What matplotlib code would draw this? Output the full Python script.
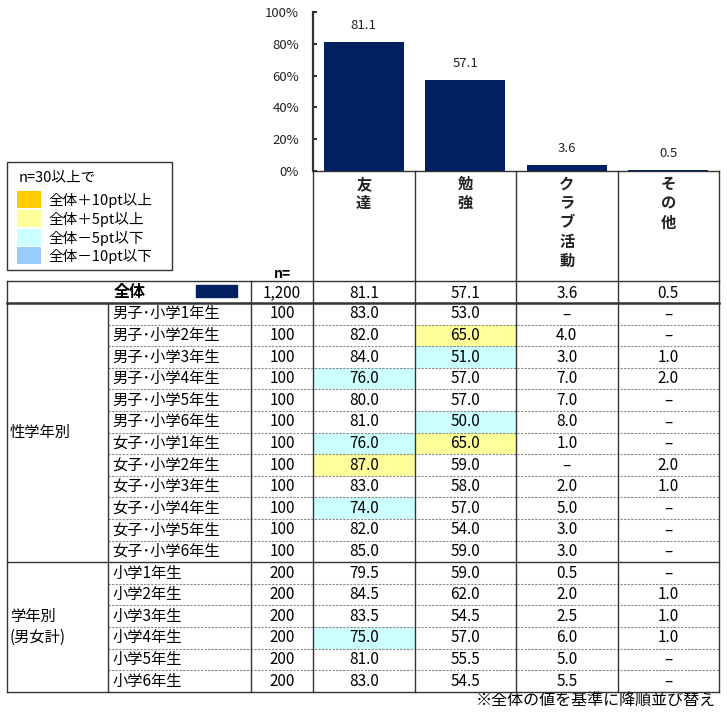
import numpy as np
import matplotlib.pyplot as plt
from matplotlib.patches import Rectangle

plt.rcParams['font.family'] = ['Noto Sans CJK JP', 'DejaVu Sans']

# データ
categories = ['友達', '勉強', 'クラブ活動', 'その他']
total_label = '全体'
total_n = 1200
total_values = [81.1, 57.1, 3.6, 0.5]

group_labels = ['性学年別', '学年別\n(男女計)']

rows_sex_grade = ['男子･小学1年生', '男子･小学2年生', '男子･小学3年生', '男子･小学4年生',
                  '男子･小学5年生', '男子･小学6年生', '女子･小学1年生', '女子･小学2年生',
                  '女子･小学3年生', '女子･小学4年生', '女子･小学5年生', '女子･小学6年生']
n_sex_grade = [100, 100, 100, 100, 100, 100, 100, 100, 100, 100, 100, 100]
vals_sex_grade = [
    [83.0, 53.0, None, None],
    [82.0, 65.0, 4.0, None],
    [84.0, 51.0, 3.0, 1.0],
    [76.0, 57.0, 7.0, 2.0],
    [80.0, 57.0, 7.0, None],
    [81.0, 50.0, 8.0, None],
    [76.0, 65.0, 1.0, None],
    [87.0, 59.0, None, 2.0],
    [83.0, 58.0, 2.0, 1.0],
    [74.0, 57.0, 5.0, None],
    [82.0, 54.0, 3.0, None],
    [85.0, 59.0, 3.0, None],
]

rows_grade = ['小学1年生', '小学2年生', '小学3年生', '小学4年生', '小学5年生', '小学6年生']
n_grade = [200, 200, 200, 200, 200, 200]
vals_grade = [
    [79.5, 59.0, 0.5, None],
    [84.5, 62.0, 2.0, 1.0],
    [83.5, 54.5, 2.5, 1.0],
    [75.0, 57.0, 6.0, 1.0],
    [81.0, 55.5, 5.0, None],
    [83.0, 54.5, 5.5, None],
]

legend_title = 'n=30以上で'
legend_labels = ['全体＋10pt以上', '全体＋5pt以上', '全体－5pt以下', '全体－10pt以下']
legend_colors = ['#FFCC00', '#FFFF99', '#CCFFFF', '#99CCFF']
note = '※全体の値を基準に降順並び替え'

navy = '#002060'
line_c = '#333333'

# レイアウト (ピクセル)
W, H = 727, 713
x_left, x_grp, x_lab, x_n = 7, 108, 251, 313
col_w = 101.5
col_edges = x_n + np.arange(5) * col_w
x_right = col_edges[-1]
y_axis_top, y_base = 12, 171
y_tbl, y_tot = 281, 303
row_h = 21.6

fig = plt.figure(figsize=(W / 100, H / 100), dpi=100)

# 棒グラフ
ax = fig.add_axes([x_n / W, 1 - y_base / H, (x_right - x_n) / W, (y_base - y_axis_top) / H])
x = np.arange(len(categories))
ax.bar(x, total_values, width=0.79, color=navy, zorder=2)
for i, v in enumerate(total_values):
    ax.annotate(f'{v:.1f}', (i, v), xytext=(0, 12), textcoords='offset points',
                ha='center', va='center', fontsize=9.5, color='#222222')
ax.set_xlim(-0.5, len(categories) - 0.5)
ax.set_ylim(0, 100)
ax.set_yticks(range(0, 101, 20))
ax.set_yticklabels([f'{t}%' for t in range(0, 101, 20)])
ax.set_xticks([])
ax.tick_params(axis='y', direction='in', length=3, width=1.5, color=line_c, pad=10,
               labelsize=9.5, labelcolor='#222222')
for s in ['top', 'right', 'bottom']:
    ax.spines[s].set_visible(False)
ax.spines['left'].set_color(line_c)
ax.spines['left'].set_linewidth(1.6)
ax.patch.set_alpha(0)

# 表
tx = fig.add_axes([0, 0, 1, 1], zorder=-1)
tx.set_xlim(0, W)
tx.set_ylim(H, 0)
tx.axis('off')


def fill_of(v, base, n):
    if v is None or n < 30:
        return None
    d = v - base
    if d >= 10:
        return legend_colors[0]
    if d >= 5:
        return legend_colors[1]
    if d <= -10:
        return legend_colors[3]
    if d <= -5:
        return legend_colors[2]
    return None


groups = [(rows_sex_grade, n_sex_grade, vals_sex_grade), (rows_grade, n_grade, vals_grade)]
fs = 11
y0 = y_tot
group_bounds = []
for g, (labels, ns, vals) in enumerate(groups):
    y_start = y0
    for r, (lab, n, vs) in enumerate(zip(labels, ns, vals)):
        yt = y0 + r * row_h
        yc = yt + row_h / 2
        for j, v in enumerate(vs):
            c = fill_of(v, total_values[j], n)
            if c:
                tx.add_patch(Rectangle((col_edges[j], yt), col_w, row_h, color=c, lw=0, zorder=1))
            txt = '–' if v is None else f'{v:.1f}'
            tx.text(col_edges[j] + col_w / 2, yc, txt, ha='center', va='center', fontsize=fs, zorder=3)
        tx.text(x_grp + 4, yc, lab, ha='left', va='center', fontsize=fs, zorder=3)
        tx.text(282, yc, f'{n}', ha='center', va='center', fontsize=fs, zorder=3)
        if r > 0:
            tx.plot([x_grp, x_right], [yt, yt], color='#8a8a8a', lw=0.8, ls=(0, (2, 1.2)), zorder=2)
    y0 = y_start + len(labels) * row_h
    group_bounds.append(y0)
    tx.text(x_left + 3, (y_start + y0) / 2, group_labels[g], ha='left', va='center',
            fontsize=fs, zorder=3, linespacing=1.3)

y_end = group_bounds[-1]

# 全体行
tx.text(130, (y_tbl + y_tot) / 2, total_label, ha='center', va='center', fontsize=11.5,
        fontweight='bold', zorder=3)
tx.add_patch(Rectangle((196, 285), 41, 12, color=navy, zorder=3))
tx.text(282, (y_tbl + y_tot) / 2 + 1, f'{total_n:,}', ha='center', va='center', fontsize=fs, zorder=3)
for j, v in enumerate(total_values):
    tx.text(col_edges[j] + col_w / 2, (y_tbl + y_tot) / 2 + 1, f'{v:.1f}', ha='center',
            va='center', fontsize=fs, zorder=3)

# 見出し
for j, cat in enumerate(categories):
    tx.text(col_edges[j] + col_w / 2, 176, '\n'.join(cat), ha='center', va='top',
            fontsize=11, fontweight='bold', linespacing=1.25, color='#222222', zorder=3)
tx.text(282, 274, 'n=', ha='center', va='center', fontsize=10, fontweight='bold', zorder=3)

# 罫線
kw = dict(color=line_c, lw=1, zorder=4, solid_capstyle='projecting')
tx.plot([x_n, x_right], [y_base, y_base], **kw)
for xe in col_edges[1:]:
    tx.plot([xe, xe], [y_base, y_end], **kw)
tx.plot([x_n, x_n], [y_base, y_end], **kw)
tx.plot([x_left, x_right], [y_tbl, y_tbl], **kw)
tx.plot([x_left, x_right], [y_tot, y_tot], color=line_c, lw=1.8, zorder=4)
tx.plot([x_left, x_right], [group_bounds[0], group_bounds[0]], **kw)
tx.plot([x_left, x_right], [y_end, y_end], **kw)
tx.plot([x_left, x_left], [y_tbl, y_end], **kw)
tx.plot([x_grp, x_grp], [y_tot, y_end], **kw)
tx.plot([x_lab, x_lab], [y_tbl, y_end], **kw)

# 凡例
tx.add_patch(Rectangle((7, 162), 165, 108, facecolor='white', edgecolor=line_c, lw=1, zorder=3))
tx.text(19, 177, legend_title, ha='left', va='center', fontsize=10.5, zorder=4)
sw_y = [191, 210, 229, 247]
for yy, lab, c in zip(sw_y, legend_labels, legend_colors):
    tx.add_patch(Rectangle((17, yy), 24, 17, color=c, lw=0, zorder=4))
    tx.text(48, yy + 9, lab, ha='left', va='center', fontsize=10.5, zorder=4)

tx.text(716, 701, note, ha='right', va='center', fontsize=11.5, zorder=3)

fig.savefig('out.png', dpi=100)
